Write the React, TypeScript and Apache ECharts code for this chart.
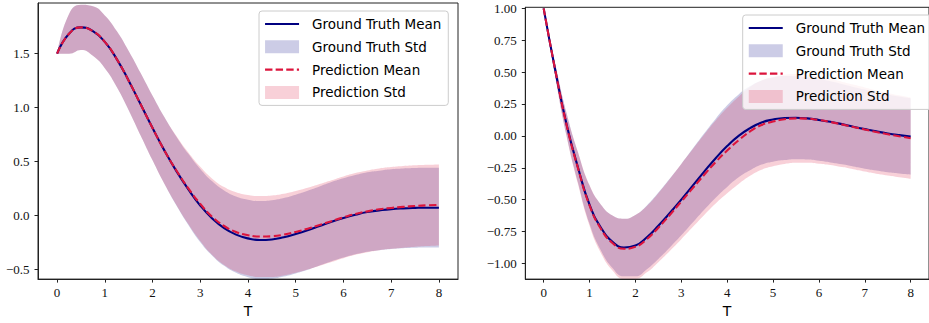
import React, { useEffect, useRef } from "react";
import * as echarts from "echarts";

// time samples (shared by both panels)
const T = [0, 0.25, 0.5, 0.75, 1, 1.25, 1.5, 1.75, 2, 2.25, 2.5, 2.75, 3, 3.25, 3.5, 3.75, 4, 4.25, 4.5, 4.75, 5, 5.25, 5.5, 5.75, 6, 6.25, 6.5, 6.75, 7, 7.25, 7.5, 7.75, 8];

// left panel
const leftGtMean = [1.5, 1.685, 1.745, 1.71, 1.61, 1.45, 1.25, 1.03, 0.81, 0.6, 0.41, 0.24, 0.09, -0.03, -0.12, -0.18, -0.215, -0.23, -0.225, -0.205, -0.175, -0.14, -0.1, -0.06, -0.025, 0.005, 0.03, 0.045, 0.057, 0.064, 0.068, 0.07, 0.07];
const leftGtStd = [0, 0.185, 0.21, 0.23, 0.245, 0.26, 0.275, 0.29, 0.3, 0.31, 0.32, 0.33, 0.34, 0.345, 0.35, 0.355, 0.36, 0.362, 0.364, 0.365, 0.366, 0.367, 0.367, 0.368, 0.368, 0.368, 0.369, 0.369, 0.37, 0.37, 0.37, 0.37, 0.37];
const leftPredMean = [1.5, 1.685, 1.745, 1.71, 1.61, 1.45, 1.25, 1.03, 0.81, 0.6, 0.415, 0.25, 0.105, -0.015, -0.1, -0.155, -0.185, -0.198, -0.195, -0.18, -0.155, -0.125, -0.09, -0.055, -0.02, 0.012, 0.036, 0.055, 0.068, 0.078, 0.086, 0.092, 0.096];
const leftPredStd = [0, 0.185, 0.21, 0.23, 0.245, 0.26, 0.275, 0.29, 0.3, 0.31, 0.32, 0.332, 0.345, 0.355, 0.362, 0.368, 0.373, 0.376, 0.378, 0.379, 0.38, 0.38, 0.38, 0.38, 0.38, 0.38, 0.38, 0.38, 0.38, 0.379, 0.378, 0.377, 0.376];

// right panel
const rightGtMean = [1.0, 0.52, 0.09, -0.25, -0.54, -0.72, -0.83, -0.875, -0.86, -0.795, -0.705, -0.605, -0.5, -0.39, -0.28, -0.175, -0.08, 0.0, 0.06, 0.105, 0.128, 0.14, 0.142, 0.137, 0.125, 0.11, 0.092, 0.072, 0.053, 0.035, 0.019, 0.006, -0.005];
const rightGtStd = [0, 0.05, 0.09, 0.12, 0.15, 0.18, 0.205, 0.225, 0.24, 0.25, 0.26, 0.27, 0.28, 0.29, 0.3, 0.31, 0.32, 0.325, 0.33, 0.33, 0.33, 0.33, 0.325, 0.322, 0.32, 0.318, 0.315, 0.312, 0.31, 0.307, 0.305, 0.302, 0.3];
const rightPredMean = [1.0, 0.52, 0.085, -0.255, -0.545, -0.73, -0.84, -0.885, -0.87, -0.81, -0.72, -0.62, -0.515, -0.41, -0.305, -0.205, -0.115, -0.035, 0.035, 0.085, 0.112, 0.13, 0.137, 0.135, 0.124, 0.109, 0.09, 0.07, 0.05, 0.03, 0.013, -0.003, -0.018];
const rightPredStd = [0, 0.05, 0.09, 0.125, 0.16, 0.19, 0.215, 0.235, 0.25, 0.26, 0.27, 0.282, 0.295, 0.305, 0.315, 0.325, 0.335, 0.342, 0.348, 0.35, 0.35, 0.35, 0.348, 0.345, 0.342, 0.338, 0.335, 0.332, 0.33, 0.327, 0.324, 0.321, 0.318];

// tick values
const xTicks = [0, 1, 2, 3, 4, 5, 6, 7, 8];
const leftYTicks = [-0.5, 0, 0.5, 1, 1.5];
const rightYTicks = [-1, -0.75, -0.5, -0.25, 0, 0.25, 0.5, 0.75, 1];

const GT_NAME = "Ground Truth Mean";
const GT_STD = "Ground Truth Std";
const PR_NAME = "Prediction Mean";
const PR_STD = "Prediction Std";

const NAVY = "#000080";
const CRIMSON = "#DC143C";
const NAVY_A = "rgba(0,0,128,0.2)";
const CRIMSON_A = "rgba(220,20,60,0.2)";
const DASH = [7.4, 3.2];
const SERIF = "'Liberation Serif', serif";
const SANS = "'DejaVu Sans', sans-serif";

const fmt = (d: number) => (v: number) => (v < 0 ? "\u2212" : "") + Math.abs(v).toFixed(d);

function meanSeries(name: string, mean: number[], idx: number, color: string, dashed: boolean) {
  return {
    type: "line",
    name,
    xAxisIndex: idx,
    yAxisIndex: idx,
    data: T.map((t, i) => [t, mean[i]]),
    smooth: true,
    symbol: "none",
    showSymbol: false,
    color,
    lineStyle: { color, width: 2.1, type: dashed ? DASH : "solid" },
    silent: true,
  };
}

function bandSeries(name: string, mean: number[], std: number[], idx: number, color: string, key: string) {
  return [
    {
      type: "line",
      name: "_low_" + key,
      xAxisIndex: idx,
      yAxisIndex: idx,
      stack: key,
      stackStrategy: "all",
      data: T.map((t, i) => [mean[i] - std[i], t]),
      encode: { x: 1, y: 0 },
      smooth: true,
      symbol: "none",
      showSymbol: false,
      lineStyle: { width: 0, opacity: 0 },
      silent: true,
    },
    {
      type: "line",
      name,
      xAxisIndex: idx,
      yAxisIndex: idx,
      stack: key,
      stackStrategy: "all",
      data: T.map((t, i) => [2 * std[i], t]),
      encode: { x: 1, y: 0 },
      smooth: true,
      symbol: "none",
      showSymbol: false,
      color,
      itemStyle: { color },
      lineStyle: { width: 0, opacity: 0 },
      areaStyle: { color, opacity: 1 },
      silent: true,
    },
  ];
}

function xAxisDef(idx: number) {
  return {
    gridIndex: idx,
    type: "value",
    min: -0.4,
    max: 8.4,
    name: "T",
    nameLocation: "middle",
    nameGap: 23,
    nameTextStyle: { fontFamily: SANS, fontSize: 14, color: "#000" },
    axisLine: { show: true, onZero: false, lineStyle: { color: "#222", width: 1 } },
    axisTick: { show: true, inside: false, length: 3.5, lineStyle: { color: "#222", width: 1 }, customValues: xTicks },
    axisLabel: { customValues: xTicks, fontFamily: SERIF, fontSize: 13, color: "#111", margin: 7 },
    splitLine: { show: false },
  };
}

function yAxisDef(idx: number, min: number, max: number, ticks: number[], d: number) {
  return {
    gridIndex: idx,
    type: "value",
    min,
    max,
    axisLine: { show: true, onZero: false, lineStyle: { color: "#222", width: 1 } },
    axisTick: { show: true, inside: false, length: 3.5, lineStyle: { color: "#222", width: 1 }, customValues: ticks },
    axisLabel: { customValues: ticks, formatter: fmt(d), fontFamily: SERIF, fontSize: 13, color: "#111", margin: 8.5 },
    splitLine: { show: false },
  };
}

const HIDDEN = "rgba(0,0,0,0)";
const legendItems = [
  {
    name: GT_NAME,
    itemStyle: { color: HIDDEN, borderColor: HIDDEN, borderWidth: 0 },
    lineStyle: { color: NAVY, width: 2.1, type: "solid", opacity: 1 },
  },
  { name: GT_STD, icon: "rect", itemStyle: { color: NAVY_A, borderWidth: 0 } },
  {
    name: PR_NAME,
    itemStyle: { color: HIDDEN, borderColor: HIDDEN, borderWidth: 0 },
    lineStyle: { color: CRIMSON, width: 2.1, type: DASH, opacity: 1 },
  },
  { name: PR_STD, icon: "rect", itemStyle: { color: CRIMSON_A, borderWidth: 0 } },
];

function legendDef(left: number, top: number) {
  return {
    orient: "vertical",
    left,
    top,
    padding: [6, 7, 6, 5],
    itemWidth: 34,
    itemHeight: 13,
    itemGap: 8.8,
    backgroundColor: "rgba(255,255,255,0.8)",
    borderColor: "#cccccc",
    borderWidth: 1,
    borderRadius: 3,
    selectedMode: false,
    textStyle: { fontFamily: SANS, fontSize: 13.5, lineHeight: 14, color: "#000", padding: [0, 0, 0, 8] },
    data: legendItems,
  };
}

export default function App() {
  const ref = useRef<HTMLDivElement>(null);
  useEffect(() => {
    if (!ref.current) return;
    const chart = echarts.init(ref.current, null, { renderer: "svg" });
    const option = {
      animation: false,
      backgroundColor: "#fff",
      grid: [
        { left: 38, top: 3, width: 420, height: 278, show: true, borderColor: "#222", borderWidth: 1, backgroundColor: "transparent" },
        { left: 525.3, top: 7.3, width: 414.3, height: 274.4, show: true, borderColor: "#222", borderWidth: 1, backgroundColor: "transparent" },
      ],
      xAxis: [xAxisDef(0), xAxisDef(1)],
      yAxis: [yAxisDef(0, -0.593, 1.971, leftYTicks, 1), yAxisDef(1, -1.123, 1.008, rightYTicks, 2)],
      legend: [legendDef(259, 11), legendDef(742.7, 15)],
      series: [
        meanSeries(GT_NAME, leftGtMean, 0, NAVY, false),
        ...bandSeries(GT_STD, leftGtMean, leftGtStd, 0, NAVY_A, "gtL"),
        meanSeries(PR_NAME, leftPredMean, 0, CRIMSON, true),
        ...bandSeries(PR_STD, leftPredMean, leftPredStd, 0, CRIMSON_A, "prL"),
        meanSeries(GT_NAME, rightGtMean, 1, NAVY, false),
        ...bandSeries(GT_STD, rightGtMean, rightGtStd, 1, NAVY_A, "gtR"),
        meanSeries(PR_NAME, rightPredMean, 1, CRIMSON, true),
        ...bandSeries(PR_STD, rightPredMean, rightPredStd, 1, CRIMSON_A, "prR"),
      ],
    };
    chart.setOption(option as any);
    return () => chart.dispose();
  }, []);
  return <div ref={ref} style={{ position: "fixed", left: 0, top: 0, width: 929, height: 323 }} />;
}
